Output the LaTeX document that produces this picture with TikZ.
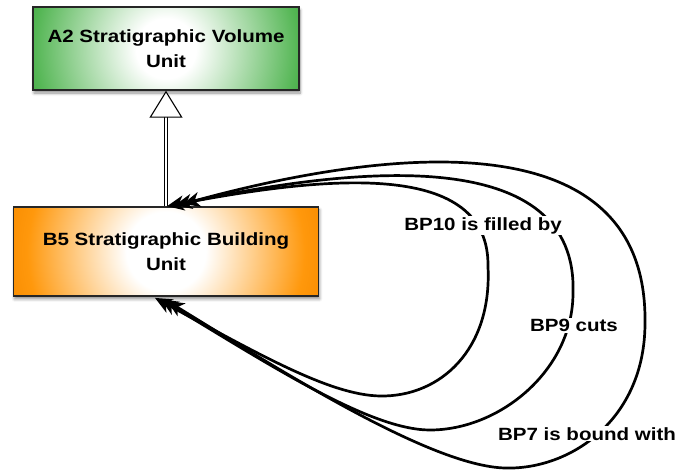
\documentclass[tikz,border=0pt]{standalone}
\usepackage{fontspec}
\setmainfont{Liberation Sans}[FakeStretch=1.16]
\usetikzlibrary{arrows.meta,shadows.blur}

\definecolor{boxgreen}{RGB}{84,182,84}
\definecolor{boxgreendark}{RGB}{66,166,66}
\definecolor{boxorange}{RGB}{255,152,12}
\definecolor{boxorangedark}{RGB}{248,140,0}

% soft round glow: white core fading to the box colour
\pgfdeclareradialshading{greenglow}{\pgfpoint{0bp}{0bp}}{%
  color(0bp)=(white); color(5bp)=(white); color(22bp)=(boxgreen);
  color(25bp)=(boxgreendark); color(50bp)=(boxgreendark)}
\pgfdeclareradialshading{orangeglow}{\pgfpoint{0bp}{0bp}}{%
  color(0bp)=(white); color(6bp)=(white); color(21bp)=(boxorange);
  color(25bp)=(boxorangedark); color(50bp)=(boxorangedark)}

\tikzset{
  classbox/.style={draw=black!85, line width=1.4pt, align=center,
    blur shadow={shadow xshift=1pt, shadow yshift=-3pt, shadow blur radius=3pt,
      shadow blur steps=6, shadow opacity=45}},
  glowfill/.style 2 args={path picture={%
    \shade[shading=#1] (path picture bounding box.center) circle (#2);}},
  relation/.style={line width=2.7pt, black,
    {Stealth[length=17pt,width=15pt,inset=5pt]}-{Stealth[length=17pt,width=15pt,inset=5pt]}},
  isa/.style={double=white, double distance=1.6pt, line width=1.1pt,
    -{Triangle[open, fill=white, length=27pt, width=33pt, line width=1.1pt]}},
  rellabel/.style={fill=white, inner sep=1pt, anchor=base},
}

\begin{document}
\begin{tikzpicture}[x=1pt, y=-1pt, font=\bfseries\fontsize{17.7}{24.7}\selectfont]
  \useasboundingbox (0,0) rectangle (690,474);

  % classes
  \node[classbox, minimum width=266pt, minimum height=83pt,
        glowfill={greenglow}{150pt}] (a2) at (166,48.5)
        {A2 Stratigraphic Volume\\Unit};
  \node[classbox, minimum width=305pt, minimum height=89pt,
        glowfill={orangeglow}{165pt}] (b5) at (166,251.4)
        {B5 Stratigraphic Building\\Unit};

  % specialisation
  \draw[isa] (b5.north) -- (a2.south);

  % loop ends on B5
  \coordinate (t10) at ([xshift=1pt]b5.north);
  \coordinate (t9)  at ([xshift=9pt, yshift=1.1pt]b5.north);
  \coordinate (t7)  at ([xshift=17pt, yshift=2.2pt]b5.north);
  \coordinate (b10) at ([xshift=-11pt, yshift=-1.3pt]b5.south);
  \coordinate (b9)  at ([xshift=-5pt, yshift=-2.8pt]b5.south);
  \coordinate (b7)  at ([xshift=1pt, yshift=-4.3pt]b5.south);

  % self relations of B5
  \draw[relation] (t10) .. controls (330,175) and (490,160) .. (488,267)
                        .. controls (492,350) and (440,397) .. (380,396)
                        .. controls (330,395) and (260,355) .. (b10);
  \draw[relation] (t9)  .. controls (360,165) and (578,145) .. (573,293)
                        .. controls (573,370) and (500,430) .. (430,430)
                        .. controls (370,430) and (270,365) .. (b9);
  \draw[relation] (t7)  .. controls (380,150) and (648,115) .. (645,323)
                        .. controls (645,420) and (570,470) .. (505,468)
                        .. controls (430,466) and (280,370) .. (b7);

  % relation names
  \node[rellabel] (l10) at (483,230) {BP10 is filled by};
  \node[rellabel] (l9)  at (574,331.7) {BP9 cuts};
  \node[rellabel] (l7)  at (587,440) {BP7 is bound with};
\end{tikzpicture}
\end{document}
